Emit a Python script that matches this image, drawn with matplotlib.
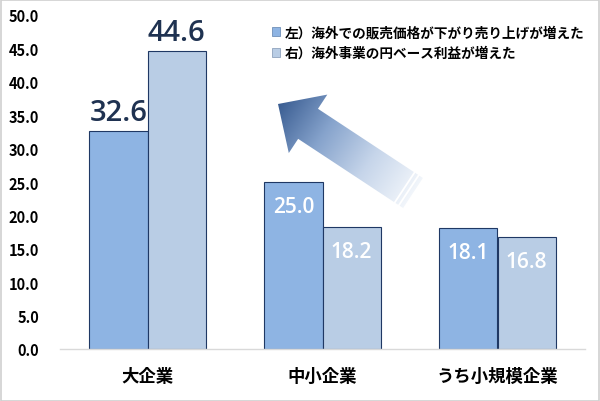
import numpy as np
import matplotlib
matplotlib.use('Agg')
import matplotlib.pyplot as plt
from matplotlib.patches import Polygon, Rectangle, Patch
from matplotlib.colors import LinearSegmentedColormap

plt.rcParams['font.family'] = ['Noto Sans CJK JP', 'DejaVu Sans']

categories = ['大企業', '中小企業', 'うち小規模企業']
series_names = ['左）海外での販売価格が下がり売り上げが増えた',
                '右）海外事業の円ベース利益が増えた']
left_vals = [32.6, 25.0, 18.1]
right_vals = [44.6, 18.2, 16.8]
yticks = [0, 5, 10, 15, 20, 25, 30, 35, 40, 45, 50]

c_left = '#8EB4E3'
c_right = '#B9CDE5'
c_edge = '#1F3864'
c_label = '#1F3251'

W, H = 600, 402
fig = plt.figure(figsize=(W / 100, H / 100), dpi=100)
fig.patch.set_facecolor('white')

ax = fig.add_axes([60 / W, 1 - 350 / H, 525 / W, 334 / H])
x = np.arange(len(categories))
bw = 0.333
b1 = ax.bar(x - bw / 2, left_vals, bw, color=c_left, edgecolor=c_edge, linewidth=0.8, zorder=2)
b2 = ax.bar(x + bw / 2, right_vals, bw, color=c_right, edgecolor=c_edge, linewidth=0.8, zorder=2)

ax.set_xlim(-0.5, 2.5)
ax.set_ylim(0, 50)
ax.set_yticks(yticks)
ax.set_yticklabels([f'{v:.1f}' for v in yticks], fontsize=10.5, fontweight='bold')
ax.set_xticks(x)
ax.set_xticklabels(categories, fontsize=12.5, fontweight='bold')
ax.tick_params(axis='y', length=0, pad=15)
ax.tick_params(axis='x', length=0, pad=13)
for s in ['left', 'right', 'top']:
    ax.spines[s].set_visible(False)
ax.spines['bottom'].set_color('#D9D9D9')
ax.spines['bottom'].set_linewidth(1)

# value labels: first group above bars, others inside in white
num_font = ['Open Sans', 'DejaVu Sans']
for bars, vals in [(b1, left_vals), (b2, right_vals)]:
    for i, (rect, v) in enumerate(zip(bars, vals)):
        cx = rect.get_x() + rect.get_width() / 2
        if i == 0:
            ax.annotate(f'{v:.1f}', (cx, v), xytext=(0, 3), textcoords='offset points',
                        ha='center', va='bottom', fontsize=21, color=c_label,
                        family=num_font, fontweight='semibold')
        else:
            ax.annotate(f'{v:.1f}', (cx, v), xytext=(0, -10), textcoords='offset points',
                        ha='center', va='top', fontsize=15, color='white',
                        family=num_font, fontweight='semibold')

handles = [Patch(facecolor=c_left, edgecolor='#6F8FB8', linewidth=0.6),
           Patch(facecolor=c_right, edgecolor='#8FA3BD', linewidth=0.6)]
fig.legend(handles, series_names, loc='upper left', bbox_to_anchor=(260 / W, 1 - 14 / H),
           frameon=False, handlelength=0.6, handleheight=0.6, handletextpad=0.3,
           labelspacing=0.5, prop={'size': 9.8, 'weight': 'bold'})

# gradient striped arrow overlay, in pixel coordinates
ov = fig.add_axes([0, 0, 1, 1], zorder=5)
ov.set_xlim(0, W)
ov.set_ylim(H, 0)
ov.axis('off')
ov.patch.set_alpha(0)

tip = np.array([278.0, 105.0])
tail = np.array([413.0, 194.0])
L = np.linalg.norm(tip - tail)
u = (tip - tail) / L
n = np.array([u[1], -u[0]])
hl, hw, sw = 36, 35, 18
base = tail + (L - hl) * u
pts = [tail + sw * n, base + sw * n, base + hw * n, tip,
       base - hw * n, base - sw * n, tail - sw * n]
poly = Polygon(pts, closed=True, facecolor='none', edgecolor='none')
ov.add_patch(poly)

gx, gy = np.meshgrid(np.linspace(250, 440, 300), np.linspace(80, 230, 300))
t = ((gx - tail[0]) * u[0] + (gy - tail[1]) * u[1]) / L
cmap = LinearSegmentedColormap.from_list('arr', ['#F2F6FB', '#C6D5EA', '#86A3CC', '#3A5D92'])
im = ov.imshow(t, extent=(250, 440, 230, 80), cmap=cmap, vmin=0, vmax=1,
               origin='upper', interpolation='bilinear', zorder=5)
im.set_clip_path(poly)

for d in [5, 10]:
    p = tail + d * u
    a, b = p + (sw + 1) * n, p - (sw + 1) * n
    ov.plot([a[0], b[0]], [a[1], b[1]], color='white', lw=1.3, zorder=6)

# light frame around the picture
fig.add_artist(Rectangle((0.5 / W, 0.5 / H), 1 - 1.5 / W, 1 - 1.5 / H, transform=fig.transFigure,
                         fill=False, edgecolor='#D0D0D0', linewidth=1.2))

fig.savefig('out.png', dpi=100)
